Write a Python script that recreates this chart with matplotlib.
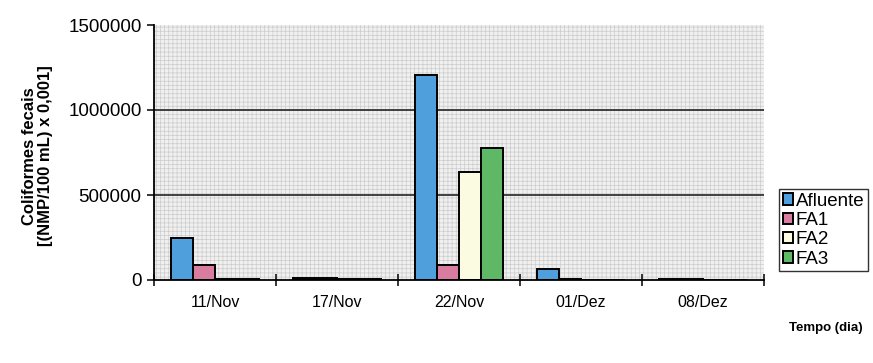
import numpy as np
import matplotlib
matplotlib.use("Agg")
import matplotlib.pyplot as plt
from matplotlib.patches import Rectangle

plt.rcParams['font.family'] = ['Liberation Sans', 'DejaVu Sans']
plt.rcParams['hatch.linewidth'] = 0.5

# Sampling dates and fecal coliform counts per treatment stage
dates = ["11/Nov", "17/Nov", "22/Nov", "01/Dez", "08/Dez"]
afluente = [245000, 12000, 1205000, 63000, 7000]
fa1 = [88000, 9000, 88000, 3000, 3000]
fa2 = [4000, 4000, 633000, 2000, 2000]
fa3 = [3000, 3000, 775000, 2000, 2000]

series = [("Afluente", afluente, "#4f9fdc"),
          ("FA1", fa1, "#d87ca0"),
          ("FA2", fa2, "#fbfbe2"),
          ("FA3", fa3, "#5fb865")]

fig = plt.figure(figsize=(8.73, 3.63), dpi=100)
ax = fig.add_axes([154/873, 1-280/363, (764-154)/873, (280-25)/363])

# textured plot-area background
ax.set_facecolor("white")
ax.add_patch(Rectangle((0, 0), 1, 1, transform=ax.transAxes, facecolor="#f0f0f0",
                       edgecolor="#cccccc", hatch="++++", lw=0, zorder=0))

x = np.arange(len(dates))
w = 0.18
for i, (name, vals, col) in enumerate(series):
    ax.bar(x + (i - 1.5) * w, vals, width=w, color=col, edgecolor="black",
           linewidth=1.4, label=name, zorder=3)

ax.set_xlim(-0.5, len(dates) - 0.5)
ax.set_ylim(0, 1500000)
ax.set_yticks([0, 500000, 1000000, 1500000])
ax.set_yticklabels(["0", "500000", "1000000", "1500000"])
for yv in [500000, 1000000]:
    ax.axhline(yv, color="#333333", lw=1.3, zorder=2)

ax.set_xticks(x)
ax.set_xticklabels(dates)
ax.set_xticks(np.arange(-0.5, len(dates), 1.0), minor=True)
ax.tick_params(axis="x", which="major", length=0, pad=11, labelsize=11.5)
ax.tick_params(axis="x", which="minor", length=8, direction="inout", width=1.1)
ax.tick_params(axis="y", length=5, width=1.1, labelsize=13.5, pad=4)

for s in ["top", "right"]:
    ax.spines[s].set_visible(False)
for s in ["left", "bottom"]:
    ax.spines[s].set_linewidth(1.3)
    ax.spines[s].set_zorder(4)

fig.text(0.043, 0.57, "Coliformes fecais\n[(NMP/100 mL) x 0,001]", rotation=90,
         ha="center", va="center", fontsize=12, fontweight="bold", linespacing=1.15)
fig.text(826/873, 1-328/363, "Tempo (dia)", ha="center", va="center",
         fontsize=9.5, fontweight="bold")

leg = fig.legend(loc="upper left", bbox_to_anchor=(779/873, 1-189/363),
                 frameon=True, fancybox=False, shadow=False, fontsize=13.5,
                 handlelength=0.55, handleheight=0.55, handletextpad=0.15,
                 labelspacing=0.12, borderpad=0.2, borderaxespad=0)
leg.get_frame().set_edgecolor("black")
leg.get_frame().set_linewidth(1.0)

fig.savefig("out.png", dpi=100)
